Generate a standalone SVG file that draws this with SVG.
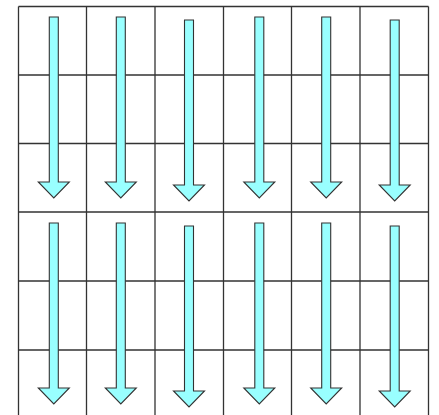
<svg xmlns="http://www.w3.org/2000/svg" xmlns:xlink="http://www.w3.org/1999/xlink" width="439" height="415" viewBox="0 0 439 415">
<style>
.grid{stroke:#333;stroke-width:1.3;fill:none}
.arrow{fill:#99FFFF;stroke:#333;stroke-width:1.1;stroke-linejoin:miter}
</style>
<defs>
<path id="arr" class="arrow" d="M-4.5 0H4.5V165H15.5L0 181L-15.5 165H-4.5Z"/>
</defs>
<rect width="439" height="415" fill="#fff"/>
<g id="grid" class="grid">
<path d="M18.5 6.5V420M86.5 6.5V420M155 6.5V420M223.5 6.5V420M291.5 6.5V420M360 6.5V420M428.5 6.5V420"/>
<path d="M18.5 6.5H428.5M18.5 75H428.5M18.5 143.5H428.5M18.5 212H428.5M18.5 281H428.5M18.5 350H428.5M18.5 419H428.5"/>
</g>
<g id="arrows">
<use xlink:href="#arr" transform="translate(53.8,17)"/>
<use xlink:href="#arr" transform="translate(120.8,17)"/>
<use xlink:href="#arr" transform="translate(189,20)"/>
<use xlink:href="#arr" transform="translate(259.3,17)"/>
<use xlink:href="#arr" transform="translate(326.2,17)"/>
<use xlink:href="#arr" transform="translate(394.7,20)"/>
<use xlink:href="#arr" transform="translate(53.8,223)"/>
<use xlink:href="#arr" transform="translate(120.8,223)"/>
<use xlink:href="#arr" transform="translate(189,226)"/>
<use xlink:href="#arr" transform="translate(259.3,223)"/>
<use xlink:href="#arr" transform="translate(326.2,223)"/>
<use xlink:href="#arr" transform="translate(394.7,226)"/>
</g>
</svg>
